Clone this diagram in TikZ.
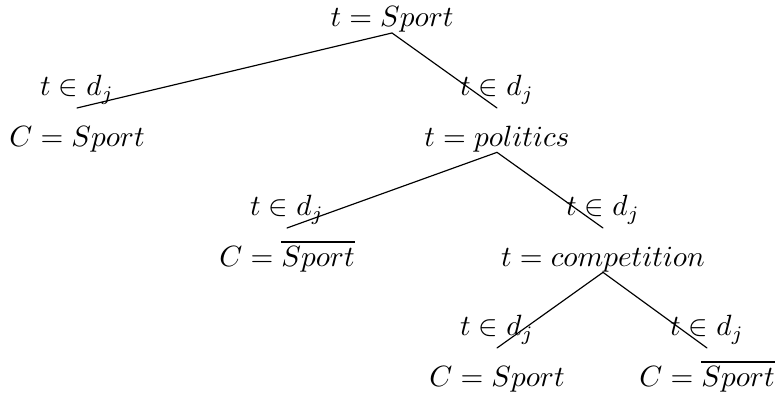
\documentclass[tikz,border=0pt]{standalone}

\begin{document}
\begin{tikzpicture}[x=1cm,y=1cm,line cap=round,line join=round,
  cond/.style={anchor=base,inner sep=0pt,yshift=4.1pt},
  test/.style={anchor=base,inner sep=0pt,yshift=-13pt}]
\useasboundingbox (0,0) rectangle (9.312,4.74);
\coordinate (r) at (4.704,4.344);
\coordinate (e1) at (0.924,3.444);
\coordinate (e2) at (5.964,3.444);
\coordinate (e3) at (3.444,2.004);
\coordinate (e4) at (7.236,2.004);
\coordinate (e5) at (5.964,0.564);
\coordinate (e6) at (8.484,0.564);
\node[anchor=south,inner sep=0pt] (root) at (r) {$t = Sport$};
\node[test] (c1) at (e1) {$C = Sport$};
\node[test] (pol) at (e2) {$t = politics$};
\node[test] (c2) at (e3) {$C = \overline{Sport}$};
\node[test] (comp) at (e4) {$t = competition$};
\node[test] (c3) at (e5) {$C = Sport$};
\node[test] (c4) at (e6) {$C = \overline{Sport}$};
\draw (root.south) -- (e1);
\draw (root.south) -- (e2);
\draw (pol.south) -- (e3);
\draw (pol.south) -- (e4);
\draw (comp.south) -- (e5);
\draw (comp.south) -- (e6);
\node[cond] (l1) at (e1) {$t \in d_j$};
\node[cond] (l2) at (e2) {$t \in d_j$};
\node[cond] (l3) at (e3) {$t \in d_j$};
\node[cond] (l4) at (e4) {$t \in d_j$};
\node[cond] (l5) at (e5) {$t \in d_j$};
\node[cond] (l6) at (e6) {$t \in d_j$};
\end{tikzpicture}
\end{document}
